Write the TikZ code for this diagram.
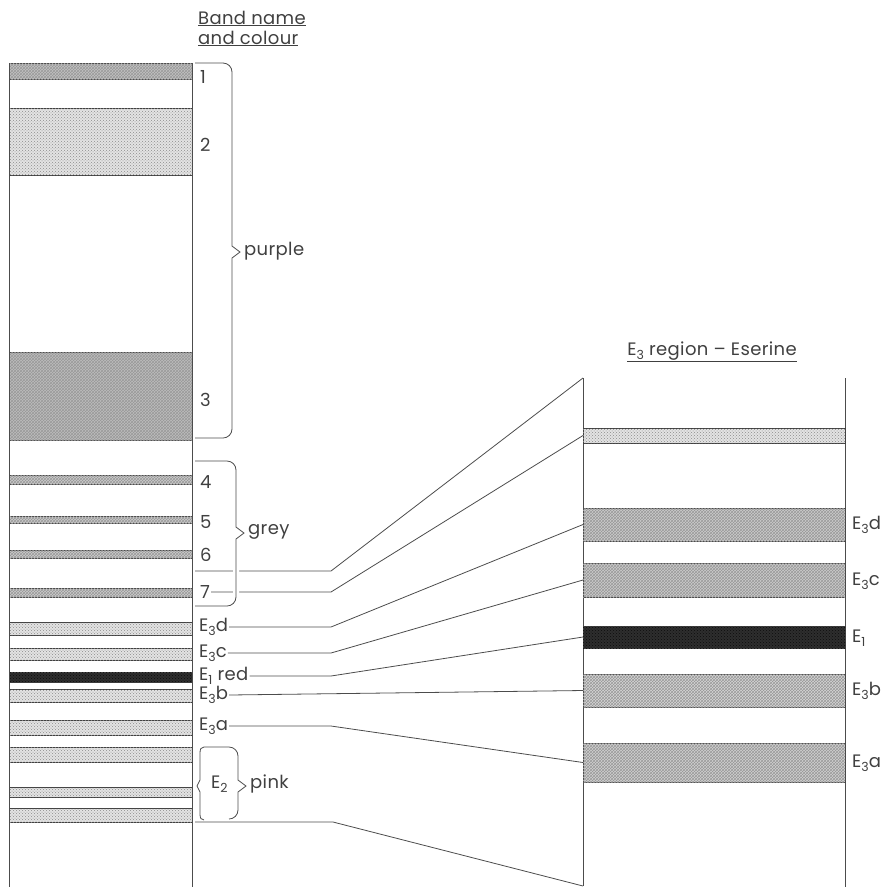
\documentclass[tikz,border=0pt]{standalone}
\usepackage{fontspec}
\setmainfont{Poppins}[LetterSpace=2]
\usetikzlibrary{calc,patterns}
\newcommand\lowsub[1]{\raisebox{-0.45ex}{\fontsize{12.5}{12.5}\selectfont #1}}
\newcommand\rbr[7]{%
  \draw[#7] (#1,#3) -- ({#2-9},#3) arc[start angle=-90,end angle=0,radius=9]
    -- (#2,{#4-6}) -- (#6,#4) -- (#2,{#4+6}) -- (#2,{#5-9})
    arc[start angle=0,end angle=90,radius=9] -- (#1,#5);}
\begin{document}
\begin{tikzpicture}[x=1pt,y=-1pt,
  every node/.style={font=\fontsize{18}{20}\selectfont, text=black!75},
  ln/.style={draw=black!70, line width=0.8pt},
  light/.style={fill=gray!22, postaction={pattern=crosshatch dots, pattern color=black!45}},
  med/.style={fill=gray!40, postaction={pattern=crosshatch, pattern color=black!40}},
  dark/.style={fill=black!82, postaction={pattern=crosshatch dots, pattern color=black!95}},
  lband/.style={draw=black!75, line width=0.8pt, minimum width=183pt, inner sep=0pt, outer sep=0pt},
  rband/.style={draw=black!75, line width=0.8pt, minimum width=262pt, inner sep=0pt, outer sep=0pt},
  lbl/.style={anchor=west, inner sep=1pt},
  brc/.style={ln},
  gapbrc/.style={ln, preaction={draw=white, line width=6pt}},
]
\useasboundingbox (0,0) rectangle (893,887);

% headings
\node[anchor=base west, inner sep=0pt] (head1) at (198,24) {\underline{Band name}};
\node[anchor=base west, inner sep=0pt] (head2) at (198,44) {\underline{and colour}};
\node (title) at (712,352) {\underline{E\lowsub{3} region -- Eserine}};

% left column bands
\node[lband, med, fill=gray!48, minimum height=16pt] (b1) at (100.5,71) {};
\node[lband, light, minimum height=67pt] (b2) at (100.5,141.5) {};
\node[lband, med, fill=gray!52, minimum height=88pt] (b3) at (100.5,396) {};
\node[lband, med, minimum height=9pt] (b4) at (100.5,480) {};
\node[lband, med, minimum height=7pt] (b5) at (100.5,519.5) {};
\node[lband, med, minimum height=8pt] (b6) at (100.5,554) {};
\node[lband, med, minimum height=9pt] (b7) at (100.5,592.5) {};
\node[lband, light, minimum height=13pt] (be3d) at (100.5,628.5) {};
\node[lband, light, minimum height=12pt] (be3c) at (100.5,654) {};
\node[lband, dark, minimum height=10pt] (be1) at (100.5,677) {};
\node[lband, light, minimum height=13pt] (be3b) at (100.5,695.5) {};
\node[lband, light, minimum height=15pt] (be3a) at (100.5,727.5) {};
\node[lband, light, minimum height=15pt] (be2a) at (100.5,754.5) {};
\node[lband, light, minimum height=10pt] (be2b) at (100.5,792) {};
\node[lband, light, minimum height=14pt] (be2c) at (100.5,815) {};
\draw[ln] (b1.north west) -- (9,887);
\draw[ln] (b1.north east) -- (192,887);

% right panel
\coordinate (rtl) at (583,378);
\coordinate (rbl) at (583,886);
\draw[ln] (rtl) -- (rbl);
\draw[ln] (845,378) -- (845,887);
\node[rband, light, minimum height=15pt] (r0) at (714,435.5) {};
\node[rband, med, minimum height=33pt] (rd) at (714,524.5) {};
\node[rband, med, minimum height=34pt] (rc) at (714,580) {};
\node[rband, dark, minimum height=22pt] (r1) at (714,637) {};
\node[rband, med, fill=gray!32, minimum height=33pt] (rb) at (714,690.5) {};
\node[rband, med, fill=gray!36, minimum height=39pt] (ra) at (714,762.5) {};

\node[lbl] (rld) at (851,525) {E\lowsub{3}d};
\node[lbl] (rlc) at (851,581) {E\lowsub{3}c};
\node[lbl] (rl1) at (851,638) {E\lowsub{1}};
\node[lbl] (rlb) at (851,691) {E\lowsub{3}b};
\node[lbl] (rla) at (851,763) {E\lowsub{3}a};

% left labels
\node[lbl] (n1) at (199,77) {1};
\node[lbl] (n2) at (199,145) {2};
\node[lbl] (n3) at (199,400) {3};
\node[lbl] (n4) at (199,482) {4};
\node[lbl] (n5) at (199,522) {5};
\node[lbl] (n6) at (199,555) {6};
\node[lbl] (n7) at (199,592) {7};
\node[lbl] (l3d) at (198,627) {E\lowsub{3}d};
\node[lbl] (l3c) at (198,653) {E\lowsub{3}c};
\node[lbl] (l1) at (198,676) {E\lowsub{1} red};
\node[lbl] (l3b) at (198,695) {E\lowsub{3}b};
\node[lbl] (l3a) at (198,726) {E\lowsub{3}a};
\node[lbl] (le2) at (210,784) {E\lowsub{2}};
\node[lbl] (purple) at (243,251) {purple};
\node[lbl] (grey) at (247,532) {grey};
\node[lbl] (pink) at (249,784) {pink};

% connectors
\coordinate (kx) at (331,0);
\coordinate (s1) at (195,571);
\coordinate (s8) at (195,822);
\draw[ln] (s1) -- (s1 -| kx) -- (rtl);
\draw[ln] (n7.east) -- (n7.east -| kx) -- (r0.west);
\draw[ln] (l3d.east) -- (l3d.east -| kx) -- (rd.west);
\draw[ln] (l3c.east) -- (l3c.east -| kx) -- (rc.west);
\draw[ln] (l1.east) -- (l1.east -| kx) -- (r1.west);
\draw[ln] (l3b.east) -- (rb.west);
\draw[ln] (l3a.east) -- (l3a.east -| kx) -- (ra.west);
\draw[ln] (s8) -- ($(s8 -| kx)+(2,0)$) -- (rbl);

% braces
\rbr{195}{232}{63}{252}{438}{240}{brc}
\rbr{195}{236}{461}{533}{606}{244}{gapbrc}
\draw[brc] (204,747) -- (229,747) arc[start angle=-90,end angle=0,radius=9]
  -- (238,780) -- (246,786) -- (238,792) -- (238,810)
  arc[start angle=0,end angle=90,radius=9];
\draw[brc] (204,747) .. controls (201,747) and (200,749) .. (200,753)
  -- (200,780) -- (197,786) -- (200,792) -- (200,814)
  .. controls (200,818) and (201,820) .. (204,820);
\end{tikzpicture}
\end{document}
